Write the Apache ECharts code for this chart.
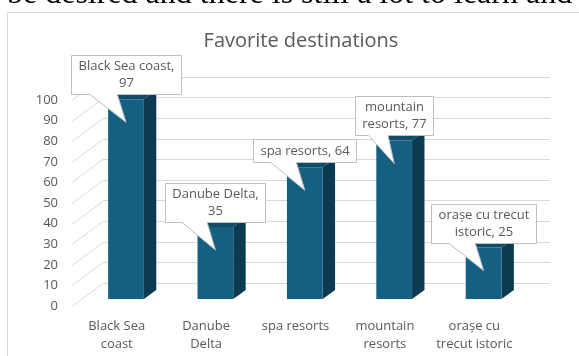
<!DOCTYPE html>
<html><head><meta charset="utf-8">
<script src="https://cdn.jsdelivr.net/npm/echarts@6/dist/echarts.min.js"></script>
<style>html,body{margin:0;padding:0;background:#fff;overflow:hidden}#c{width:579px;height:356px}</style>
</head><body><div id="c"></div>
<script>
// ---- data ----
const categories = ['Black Sea coast', 'Danube Delta', 'spa resorts', 'mountain resorts', 'orașe cu trecut istoric'];
const values = [97, 35, 64, 77, 25];
const tickLabels = ['Black Sea\ncoast', 'Danube\nDelta', 'spa resorts', 'mountain\nresorts', 'orașe cu\ntrecut istoric'];
const labelBreakAfter = ['coast,', 'Delta,', null, 'mountain', 'trecut'];
const yTicks = [0, 10, 20, 30, 40, 50, 60, 70, 80, 90, 100];
const titleText = 'Favorite destinations';
const pageText = 'be desired and there is still a lot to learn and';

// ---- style / layout constants ----
const FONT = '"Open Sans"';
const TXT = '#595959';
const GRID_C = '#d9d9d9';
const FRONT = '#156082', TOPC = '#104b67', SIDE = '#0c3a50';
const DX = 31, DY = 23;          // perspective depth offset (back wall -> front plane)
const FT = 0.3, BT = 0.7;         // bar front/back depth fractions
const LH = 16.5, PADX = 7, PADY = 3, GAP = 5, TIP = 23;

const labelTexts = categories.map((c, i) => {
  let t = c + ', ' + values[i];
  if (labelBreakAfter[i]) t = t.replace(labelBreakAfter[i] + ' ', labelBreakAfter[i] + '\n');
  return t;
});

const mctx = document.createElement('canvas').getContext('2d');
mctx.font = '13px ' + FONT;
function measure(s) { return mctx.measureText(s).width; }

function renderWall(params, api) {
  const y = Math.round(api.coord([0, api.value(1)])[1]) + 0.5;
  const x0 = params.coordSys.x;
  return { type: 'line', shape: { x1: x0 - DX, y1: y + DY, x2: x0, y2: y },
    style: { stroke: GRID_C, lineWidth: 1 } };
}

function renderBar(params, api) {
  const i = api.value(0), v = api.value(1);
  const top = api.coord([i, v]), base = api.coord([i, 0]);
  const band = api.size([1, 0])[0];
  const w = band / 2.5;
  const cx = top[0];
  const f = [-DX * (1 - FT), DY * (1 - FT)], b = [-DX * (1 - BT), DY * (1 - BT)];
  const L1 = cx - w / 2 + f[0], R1 = cx + w / 2 + f[0], T1 = top[1] + f[1], B1 = base[1] + f[1];
  const L2 = cx - w / 2 + b[0], R2 = cx + w / 2 + b[0], T2 = top[1] + b[1], B2 = base[1] + b[1];
  return { type: 'group', children: [
    { type: 'polygon', shape: { points: [[R1, T1], [R2, T2], [R2, B2], [R1, B1]] }, style: { fill: SIDE } },
    { type: 'polygon', shape: { points: [[L1, T1], [L2, T2], [R2, T2], [R1, T1]] }, style: { fill: TOPC } },
    { type: 'rect', shape: { x: L1, y: T1, width: w, height: B1 - T1 }, style: { fill: FRONT } }
  ] };
}

function renderCallout(params, api) {
  const i = api.value(0), v = api.value(1);
  const top = api.coord([i, v]);
  const cx = top[0] - DX * (1 - FT);
  const frontTop = top[1] + DY * (1 - FT);
  const text = labelTexts[params.dataIndex];
  const lines = text.split('\n');
  const tw = Math.max.apply(null, lines.map(measure));
  const bw = Math.round(tw + 2 * PADX), bh = Math.round(lines.length * LH + 2 * PADY);
  const B = Math.round(frontTop - GAP) + 0.5;
  const T = B - bh;
  const L = Math.round(cx - bw / 2) + 0.5, R = L + bw;
  const tip = [cx, frontTop + TIP];
  const pts = [[L, T], [R, T], [R, B], [L + bw * 5 / 12, B], tip, [L + bw * 2 / 12, B], [L, B]];
  return { type: 'group', children: [
    { type: 'polygon', shape: { points: pts }, style: { fill: '#fff', stroke: '#bfbfbf', lineWidth: 1 } },
    { type: 'text', x: (L + R) / 2, y: (T + B) / 2,
      style: { text: text, fontFamily: 'Open Sans', fontSize: 13, fill: TXT, align: 'center', verticalAlign: 'middle', lineHeight: LH } }
  ] };
}

const chart = echarts.init(document.getElementById('c'), null, { renderer: 'canvas' });
const axisFont = { fontFamily: 'Open Sans', fontSize: 13, color: TXT };
chart.setOption({
  animation: false,
  backgroundColor: '#fff',
  title: { text: titleText, left: 296, top: 26, textAlign: 'center',
    textStyle: { fontFamily: 'Open Sans', fontSize: 20, fontWeight: 'normal', color: TXT } },
  grid: [
    { left: 103, top: 77, width: 447, height: 206 },
    { left: 72, top: 100, width: 447, height: 206 }
  ],
  xAxis: [
    { gridIndex: 0, type: 'category', data: categories, axisLine: { show: false }, axisTick: { show: false }, axisLabel: { show: false } },
    { gridIndex: 1, type: 'category', data: tickLabels, axisLine: { show: false }, axisTick: { show: false },
      axisLabel: Object.assign({ interval: 0, margin: 11, lineHeight: 18 }, axisFont) }
  ],
  yAxis: [
    { gridIndex: 0, type: 'value', min: 0, max: 100, interval: 10, axisLine: { show: false }, axisTick: { show: false },
      axisLabel: { show: false }, splitLine: { lineStyle: { color: GRID_C, width: 1 } } },
    { gridIndex: 1, type: 'value', min: 0, max: 100, interval: 10, axisLine: { show: false }, axisTick: { show: false },
      splitLine: { show: false }, axisLabel: Object.assign({ margin: 14 }, axisFont) }
  ],
  graphic: [
    { type: 'rect', shape: { x: 7.5, y: 12.5, width: 640, height: 400 }, style: { fill: 'none', stroke: GRID_C, lineWidth: 1 }, z: 0 },
    { type: 'text', x: 7, y: -5, style: { text: pageText, font: '32px "Liberation Serif"', fill: '#000', verticalAlign: 'middle' } }
  ],
  series: [
    { type: 'custom', xAxisIndex: 0, yAxisIndex: 0, renderItem: renderWall, clip: false, silent: true, z: 1,
      data: yTicks.map(v => [0, v]) },
    { type: 'custom', xAxisIndex: 0, yAxisIndex: 0, renderItem: renderBar, clip: false, z: 2,
      data: values.map((v, i) => [i, v]) },
    { type: 'custom', xAxisIndex: 0, yAxisIndex: 0, renderItem: renderCallout, clip: false, z: 3,
      data: values.map((v, i) => [i, v]) }
  ]
});
</script></body></html>
